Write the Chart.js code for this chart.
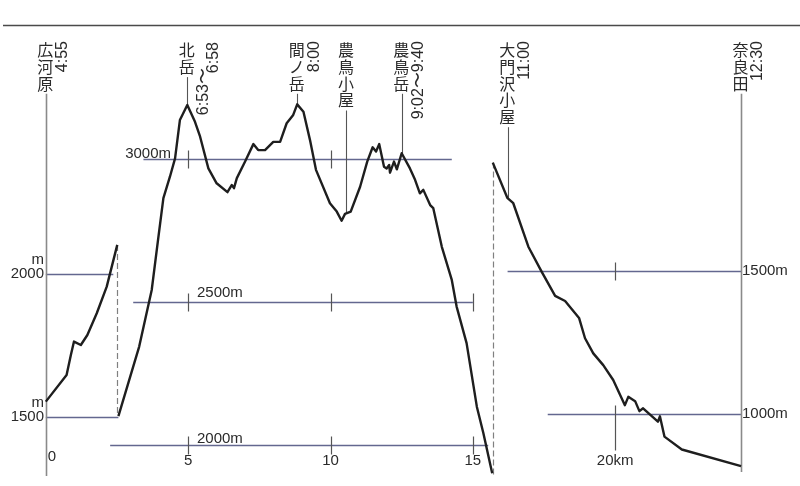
<!DOCTYPE html>
<html>
<head>
<meta charset="utf-8">
<script src="https://cdn.jsdelivr.net/npm/chart.js@4.4.1/dist/chart.umd.min.js"></script>
<style>
  html, body { margin: 0; padding: 0; background: #fff; }
  #wrap { width: 800px; height: 486px; }
</style>
</head>
<body>
<div id="wrap"><canvas id="profileChart"></canvas></div>
<script>
// Route profile 広河原 → 北岳 → 間ノ岳 → 農鳥岳 → 大門沢 → 奈良田
// distance in km, elevation in m. Drawn as three pieces, each on its own shifted y scale.

const seg1Km   = [0, 0.73, 0.88, 0.99, 1.23, 1.46, 1.79, 2.14, 2.51];
const seg1Elev = [1552, 1645, 1715, 1762, 1750, 1785, 1861, 1954, 2100];

const seg2Km = [2.55, 3.28, 3.72, 3.95, 4.13, 4.36, 4.54, 4.71, 4.97, 5.24,
  5.42, 5.71, 6.00, 6.38, 6.53, 6.61, 6.71, 7.00, 7.29, 7.46,
  7.70, 7.99, 8.23, 8.46, 8.69, 8.83, 9.05, 9.28, 9.49, 9.98,
  10.22, 10.39, 10.51, 10.71, 11.04, 11.29, 11.48, 11.60, 11.71, 11.88,
  11.97, 12.06, 12.09, 12.23, 12.33, 12.50, 12.79, 12.97, 13.14, 13.26,
  13.50, 13.61, 13.91, 14.26, 14.43, 14.78, 15.14, 15.37, 15.68];
const seg2Elev = [2100, 2343, 2541, 2722, 2862, 2937, 3001, 3135, 3188, 3129,
  3077, 2966, 2914, 2883, 2908, 2897, 2932, 2990, 3051, 3030,
  3030, 3059, 3059, 3124, 3153, 3190, 3164, 3065, 2961, 2844,
  2815, 2783, 2807, 2815, 2902, 2990, 3040, 3025, 3051, 2972,
  2966, 2978, 2951, 2990, 2963, 3019, 2966, 2926, 2879, 2891,
  2838, 2827, 2692, 2576, 2483, 2355, 2133, 2040, 1900];

const seg3Km = [15.70, 16.21, 16.42, 16.95, 17.42, 17.89, 18.24, 18.73, 18.94, 19.23,
  19.58, 19.93, 20.34, 20.46, 20.70, 20.85, 20.98, 21.50, 21.57, 21.73, 22.34, 24.42];
const seg3Elev = [1880, 1757, 1738, 1586, 1498, 1414, 1396, 1337, 1266, 1213,
  1172, 1120, 1032, 1061, 1046, 1011, 1021, 974, 993, 922, 877, 819];

const stationNames = ['広河原', '北岳', '間ノ岳', '農鳥小屋', '農鳥岳', '大門沢小屋', '奈良田'];
const stationKm    = [0, 4.97, 8.83, 10.56, 12.50, 16.23, 24.42];
const stationTimes = ['4:55', '6:53〜6:58', '8:00', '', '9:02〜9:40', '11:00', '12:30'];

const kmTicks     = [0, 5, 10, 15, 20];
const seg1Levels  = [1500, 2000];
const seg2Levels  = [2000, 2500, 3000];
const seg3Levels  = [1000, 1500];

const GUIDE = '#63678f';
const INK = '#1e1e1e';
const NUM_FONT = '15px "Liberation Sans", Arial, sans-serif';
const TIME_FONT = '16px "Liberation Sans", Arial, sans-serif';
const JP_FONT = '16px "Noto Sans CJK JP", sans-serif';

const toPoints = (xs, ys) => xs.map((v, i) => ({ x: v, y: ys[i] }));

function elevAt(km, xs, ys) {
  for (let i = 1; i < xs.length; i++) {
    if (km <= xs[i]) {
      const t = (km - xs[i - 1]) / (xs[i] - xs[i - 1]);
      return ys[i - 1] + t * (ys[i] - ys[i - 1]);
    }
  }
  return ys[ys.length - 1];
}

const decor = {
  id: 'decor',
  beforeDatasetsDraw(chart) {
    const { ctx, scales } = chart;
    const sx = scales.x;
    ctx.save();

    // top rule of the page
    ctx.strokeStyle = '#4a4a4a';
    ctx.lineWidth = 1.5;
    ctx.beginPath(); ctx.moveTo(3, 25.5); ctx.lineTo(800, 25.5); ctx.stroke();

    // horizontal height guides with km ticks
    const guides = [
      { axis: 'y1', value: seg1Levels[1], from: 0, to: 2.37, ticks: [] },
      { axis: 'y1', value: seg1Levels[0], from: 0, to: 2.55, ticks: [] },
      { axis: 'y2', value: seg2Levels[2], from: 3.43, to: 14.26, ticks: [5, 10] },
      { axis: 'y2', value: seg2Levels[1], from: 3.07, to: 15.0, ticks: [5, 10, 15] },
      { axis: 'y2', value: seg2Levels[0], from: 2.26, to: 15.54, ticks: [5, 10, 15] },
      { axis: 'y3', value: seg3Levels[1], from: 16.22, to: 24.42, ticks: [20] },
      { axis: 'y3', value: seg3Levels[0], from: 17.63, to: 24.42, ticks: [20], down: 36 }
    ];
    guides.forEach(g => {
      const py = Math.round(scales[g.axis].getPixelForValue(g.value)) + 0.5;
      ctx.strokeStyle = GUIDE;
      ctx.lineWidth = 1.4;
      ctx.beginPath();
      ctx.moveTo(sx.getPixelForValue(g.from), py);
      ctx.lineTo(sx.getPixelForValue(g.to), py);
      ctx.stroke();
      ctx.strokeStyle = '#555';
      ctx.lineWidth = 1.2;
      g.ticks.forEach(t => {
        const px = Math.round(sx.getPixelForValue(t)) + 0.5;
        ctx.beginPath();
        ctx.moveTo(px, py - 9);
        ctx.lineTo(px, py + (g.down || 9));
        ctx.stroke();
      });
    });

    // dashed joins where the profile is cut and shifted
    ctx.strokeStyle = '#808080';
    ctx.lineWidth = 1.2;
    ctx.setLineDash([6, 3]);
    const joins = [
      [seg1Km[seg1Km.length - 1], scales.y1, seg1Elev[seg1Elev.length - 1], scales.y2, seg2Elev[0]],
      [seg3Km[0], scales.y3, seg3Elev[0], scales.y2, seg2Elev[seg2Elev.length - 1] - 10]
    ];
    joins.forEach(([km, sa, ea, sb, eb]) => {
      const px = Math.round(sx.getPixelForValue(km)) + 0.5;
      ctx.beginPath();
      ctx.moveTo(px, sa.getPixelForValue(ea));
      ctx.lineTo(px, sb.getPixelForValue(eb));
      ctx.stroke();
    });
    ctx.setLineDash([]);

    // station marker lines
    const pitch = 16.7, top = 41.7;
    stationNames.forEach((name, i) => {
      const px = Math.round(sx.getPixelForValue(stationKm[i])) + 0.5;
      const y0 = top + name.length * pitch + 2;
      let y1;
      const last = i === stationNames.length - 1;
      if (i === 0) { y1 = 476; }
      else if (last) { y1 = 472; }
      else if (stationKm[i] < seg3Km[0]) { y1 = scales.y2.getPixelForValue(elevAt(stationKm[i], seg2Km, seg2Elev)); }
      else { y1 = scales.y3.getPixelForValue(elevAt(stationKm[i], seg3Km, seg3Elev)); }
      ctx.strokeStyle = (i === 0 || last) ? '#8a8a8a' : '#555';
      ctx.lineWidth = (i === 0 || last) ? 1.6 : 1.1;
      ctx.beginPath(); ctx.moveTo(px, y0); ctx.lineTo(px, y1); ctx.stroke();
    });
    ctx.restore();
  },

  afterDatasetsDraw(chart) {
    const { ctx, scales } = chart;
    const sx = scales.x;
    ctx.save();
    ctx.fillStyle = '#2a2a2a';

    // station names, written vertically
    const pitch = 16.7, top = 41.7;
    ctx.font = JP_FONT;
    ctx.textAlign = 'center';
    ctx.textBaseline = 'middle';
    stationNames.forEach((name, i) => {
      const px = sx.getPixelForValue(stationKm[i]) - 0.5;
      [...name].forEach((ch, k) => ctx.fillText(ch, px, top + 8.5 + k * pitch));
    });

    // times, rotated to read upwards
    ctx.font = TIME_FONT;
    const rotText = (txt, cx, yTop) => {
      ctx.save();
      ctx.translate(cx, yTop);
      ctx.rotate(-Math.PI / 2);
      ctx.textAlign = 'right';
      ctx.textBaseline = 'middle';
      ctx.fillText(txt, 0, 0);
      ctx.restore();
    };
    stationTimes.forEach((t, i) => {
      if (!t) return;
      const px = sx.getPixelForValue(stationKm[i]);
      if (i === 1) {
        const [a, b] = t.split('〜');
        rotText(b, px + 26, 42);
        rotText(a + '〜', px + 16, 68);
      } else {
        rotText(t, px + 17, 41);
      }
    });

    // height labels
    ctx.font = NUM_FONT;
    ctx.textBaseline = 'middle';
    ctx.textAlign = 'right';
    const y1 = scales.y1, y2 = scales.y2, y3 = scales.y3;
    seg1Levels.forEach(v => {
      const py = y1.getPixelForValue(v);
      ctx.fillText(String(v), 44, py);
      ctx.fillText('m', 44, py - 14);
    });
    ctx.textAlign = 'left';
    seg3Levels.forEach(v => {
      ctx.fillText(v + 'm', 742, y3.getPixelForValue(v));
    });
    ctx.textBaseline = 'alphabetic';
    ctx.textAlign = 'right';
    ctx.fillText(seg2Levels[2] + 'm', 171, y2.getPixelForValue(seg2Levels[2]) - 1);
    ctx.textAlign = 'left';
    ctx.fillText(seg2Levels[1] + 'm', 197, y2.getPixelForValue(seg2Levels[1]) - 5);
    ctx.fillText(seg2Levels[0] + 'm', 197, y2.getPixelForValue(seg2Levels[0]) - 2);

    // distance labels
    ctx.textBaseline = 'middle';
    kmTicks.forEach(k => {
      const px = sx.getPixelForValue(k);
      if (k === 0) {
        ctx.textAlign = 'left';
        ctx.fillText('0', px + 2, 457);
      } else if (k === kmTicks[kmTicks.length - 1]) {
        ctx.textAlign = 'center';
        ctx.fillText(k + 'km', px, 461);
      } else {
        ctx.textAlign = 'center';
        ctx.fillText(String(k), px, 461);
      }
    });
    ctx.restore();
  }
};

const lineStyle = {
  borderColor: INK,
  borderWidth: 2.4,
  pointRadius: 0,
  tension: 0,
  fill: false,
  borderJoinStyle: 'round'
};

new Chart(document.getElementById('profileChart'), {
  type: 'line',
  data: {
    datasets: [
      { ...lineStyle, label: 'seg1', data: toPoints(seg1Km, seg1Elev), yAxisID: 'y1' },
      { ...lineStyle, label: 'seg2', data: toPoints(seg2Km, seg2Elev), yAxisID: 'y2' },
      { ...lineStyle, label: 'seg3', data: toPoints(seg3Km, seg3Elev), yAxisID: 'y3' }
    ]
  },
  options: {
    responsive: true,
    maintainAspectRatio: false,
    animation: false,
    events: [],
    layout: { padding: 0 },
    scales: {
      x:  { type: 'linear', display: false, min: -1.609, max: 26.491 },
      // each piece is 0.286 px per metre, shifted to where it sits on the page
      y1: { type: 'linear', display: false, min: 1257.0, max: 2956.3 },
      y2: { type: 'linear', display: false, min: 1855.6, max: 3554.9 },
      y3: { type: 'linear', display: false, min: 749.3, max: 2448.6 }
    },
    plugins: {
      legend: { display: false },
      tooltip: { enabled: false }
    }
  },
  plugins: [decor]
});
</script>
</body>
</html>
